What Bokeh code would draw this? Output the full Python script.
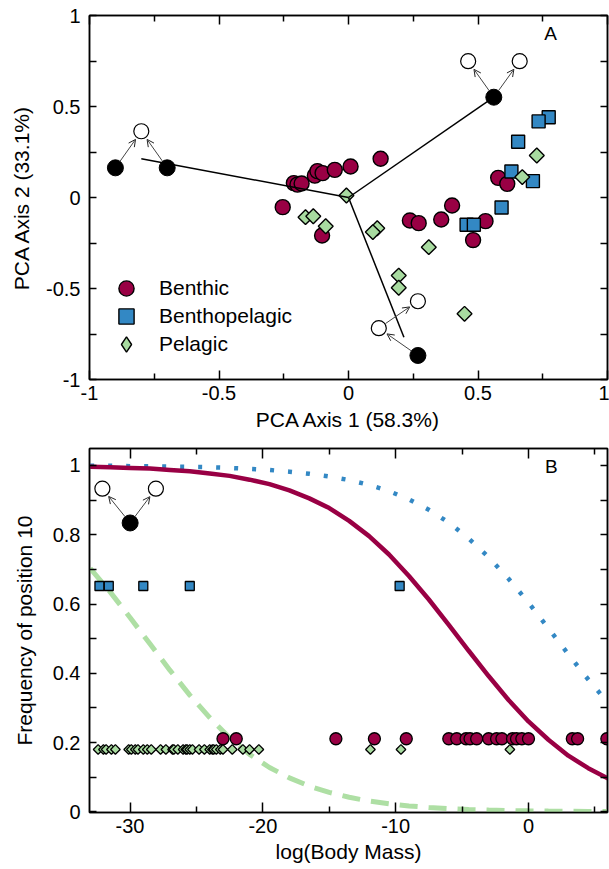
import math
from bokeh.plotting import figure
from bokeh.layouts import column
from bokeh.models import (Range1d, FixedTicker, LinearAxis, Legend, LegendItem,
                          Arrow, OpenHead, ColumnDataSource, Label)
from bokeh.embed import file_html
from bokeh.resources import INLINE

FONT = "Liberation Sans"
RED = "#990044"
BLUE = "#3388c4"
GREEN = "#a8dba0"
GREEN_LINE = "#aedfa4"

# ---------------- Panel A data (PCA scores) ----------------
benthic_pc1 = [-0.254, -0.211, -0.197, -0.181, -0.130, -0.120, -0.100, -0.053, 0.008, 0.124,
               -0.102, 0.578, 0.613, 0.400, 0.237, 0.271, 0.358, 0.529, 0.481]
benthic_pc2 = [-0.053, 0.079, 0.071, 0.077, 0.120, 0.145, 0.134, 0.152, 0.170, 0.213,
               -0.209, 0.108, 0.075, -0.044, -0.126, -0.141, -0.121, -0.130, -0.234]
benthopelagic_pc1 = [0.773, 0.734, 0.655, 0.629, 0.712, 0.591, 0.456, 0.484]
benthopelagic_pc2 = [0.441, 0.418, 0.306, 0.143, 0.090, -0.055, -0.150, -0.150]
pelagic_pc1 = [-0.166, -0.136, -0.088, -0.008, 0.111, 0.094, 0.310, 0.194, 0.194, 0.448, 0.727, 0.671]
pelagic_pc2 = [-0.108, -0.103, -0.158, 0.011, -0.169, -0.190, -0.273, -0.429, -0.496, -0.639, 0.231, 0.112]

# loading vectors (from origin)
loading_pc1 = [-0.800, 0.561, 0.214]
loading_pc2 = [0.213, 0.551, -0.768]

# topology icons in panel A
iconA_black_x = [-0.900, -0.700, 0.561, 0.268]
iconA_black_y = [0.163, 0.163, 0.551, -0.868]
iconA_open_x = [-0.800, 0.462, 0.661, 0.117, 0.268]
iconA_open_y = [0.364, 0.749, 0.749, -0.718, -0.570]
arrowA_x0 = [-0.900, -0.700, 0.561, 0.561, 0.268, 0.117]
arrowA_y0 = [0.163, 0.163, 0.551, 0.551, -0.868, -0.718]
arrowA_x1 = [-0.800, -0.800, 0.462, 0.661, 0.117, 0.268]
arrowA_y1 = [0.364, 0.364, 0.749, 0.749, -0.718, -0.570]

# ---------------- Panel B data ----------------
curve_x = [-33, -31.5, -30, -28.5, -27, -25.5, -24, -22.5, -21, -19.5, -18, -16.5, -15, -13.5,
           -12, -10.5, -9, -7.5, -6, -4.5, -3, -1.5, 0, 1.5, 3, 4.5, 6]
benthic_curve = [0.996, 0.995, 0.993, 0.991, 0.987, 0.983, 0.977, 0.970, 0.959, 0.946, 0.928,
                 0.905, 0.877, 0.840, 0.796, 0.743, 0.681, 0.613, 0.540, 0.465, 0.392, 0.323,
                 0.261, 0.208, 0.162, 0.126, 0.096]
benthopelagic_curve = [0.999, 0.999, 0.998, 0.998, 0.997, 0.996, 0.995, 0.993, 0.990, 0.987,
                       0.982, 0.976, 0.968, 0.958, 0.944, 0.926, 0.902, 0.872, 0.835, 0.789,
                       0.735, 0.673, 0.604, 0.530, 0.455, 0.382, 0.314]
pelagic_curve = [0.703, 0.635, 0.561, 0.485, 0.409, 0.337, 0.272, 0.214, 0.166, 0.128, 0.098,
                 0.074, 0.056, 0.042, 0.031, 0.023, 0.017, 0.0125, 0.0092, 0.0068, 0.0050,
                 0.0037, 0.0027, 0.0020, 0.0015, 0.0011, 0.0008]

benthic_mass = [-23.0, -22.0, -14.5, -11.6, -9.2, -6.0, -5.4, -4.7, -4.4, -3.9, -3.0, -2.4,
                -2.0, -1.2, -0.9, -0.5, 0.0, 3.3, 3.7, 5.9]
benthic_level = 0.211
benthopelagic_mass = [-32.3, -31.6, -29.0, -25.5, -9.7]
benthopelagic_level = 0.652
pelagic_mass = [-32.4, -32.0, -31.8, -31.4, -31.1, -30.1, -29.9, -29.6, -29.4, -29.0, -28.7,
                -28.4, -27.7, -27.3, -26.8, -26.7, -26.4, -26.0, -25.8, -25.7, -25.5, -25.3,
                -24.8, -24.4, -24.0, -23.8, -23.7, -23.5, -23.2, -23.0, -22.3, -21.5, -21.0,
                -20.3, -11.9, -9.6, -1.4]
pelagic_level = 0.180

iconB_black_x = [-29.99]
iconB_black_y = [0.834]
iconB_open_x = [-32.08, -28.05]
iconB_open_y = [0.933, 0.933]
arrowB_x0 = [-29.99, -29.99]
arrowB_y0 = [0.834, 0.834]
arrowB_x1 = [-32.08, -28.05]
arrowB_y1 = [0.933, 0.933]


def shorten(x0, y0, x1, y1, sx, sy, d0, d1):
    ax, ay, bx, by = [], [], [], []
    for a, b, c, d in zip(x0, y0, x1, y1):
        dx, dy = (c - a) * sx, (d - b) * sy
        L = math.hypot(dx, dy)
        ux, uy = dx / L, dy / L
        ax.append(a + ux * d0 / sx)
        ay.append(b + uy * d0 / sy)
        bx.append(c - ux * d1 / sx)
        by.append(d - uy * d1 / sy)
    return ax, ay, bx, by


def style_axis(ax, ticker, major_in, minor_in, labels=True, overrides=None, label_standoff=8,
               axis_label_standoff=8):
    ax.ticker = ticker
    ax.major_tick_in = major_in
    ax.major_tick_out = 0
    ax.minor_tick_in = minor_in
    ax.minor_tick_out = 0
    ax.axis_line_width = 1.5
    ax.axis_line_color = "black"
    ax.major_tick_line_width = 1.5
    ax.minor_tick_line_width = 1.5
    ax.major_tick_line_color = "black"
    ax.minor_tick_line_color = "black"
    ax.major_label_text_font = FONT
    ax.axis_label_text_font = FONT
    ax.axis_label_text_font_size = "21px"
    ax.axis_label_text_font_style = "normal"
    ax.axis_label_text_color = "black"
    ax.axis_label_standoff = axis_label_standoff
    if labels:
        ax.major_label_text_color = "black"
        ax.major_label_text_font_size = "20px"
        ax.major_label_standoff = label_standoff
        if overrides:
            ax.major_label_overrides = overrides
    else:
        # mirrored frame axis: ticks only, labels not drawn
        ax.major_label_text_color = None
        ax.major_label_text_alpha = 0
        ax.major_label_text_font_size = "1px"
        ax.major_label_standoff = 0


def make_fig(xr, yr, top, bottom, xlabel, ylabel):
    p = figure(frame_width=518, frame_height=364, x_range=xr, y_range=yr,
               output_backend="svg", toolbar_location=None,
               min_border_left=89, min_border_right=2, min_border_top=top,
               min_border_bottom=bottom, x_axis_label=xlabel, y_axis_label=ylabel)
    p.xgrid.visible = False
    p.ygrid.visible = False
    p.outline_line_color = "black"
    p.outline_line_width = 1.5
    p.background_fill_color = "white"
    p.border_fill_color = "white"
    return p


def key_legend(label, renderer, loc):
    return Legend(items=[LegendItem(label=label, renderers=[renderer])],
                  location=loc, padding=0, margin=0, spacing=0,
                  glyph_width=38, glyph_height=38, label_height=38, label_standoff=14,
                  label_text_font=FONT, label_text_font_size="21px", label_text_color="black",
                  background_fill_alpha=0, border_line_alpha=0)


# ================= Panel A =================
p1 = make_fig(Range1d(-1, 1), Range1d(-1, 1), 15, 56, "PCA Axis 1 (58.3%)", "PCA Axis 2 (33.1%)")
ovA = {-1: "-1", -0.5: "-0.5", 0: "0", 0.5: "0.5", 1: "1"}
tkA = lambda: FixedTicker(ticks=[-1, -0.5, 0, 0.5, 1], minor_ticks=[-0.75, -0.25, 0.25, 0.75])
style_axis(p1.xaxis[0], tkA(), 9, 6, overrides=ovA, label_standoff=6, axis_label_standoff=5)
style_axis(p1.yaxis[0], tkA(), 7, 7, overrides=ovA, label_standoff=9, axis_label_standoff=10)
ax_top = LinearAxis()
style_axis(ax_top, tkA(), 9, 6, labels=False)
p1.add_layout(ax_top, "above")
ax_right = LinearAxis()
style_axis(ax_right, tkA(), 7, 7, labels=False)
p1.add_layout(ax_right, "right")

r_b = p1.scatter(benthic_pc1, benthic_pc2, marker="circle", size=15, fill_color=RED,
                 line_color="black", line_width=1.4)
r_bp = p1.scatter(benthopelagic_pc1, benthopelagic_pc2, marker="square", size=13, fill_color=BLUE,
                  line_color="black", line_width=1.4)
# diamond-shaped key for the legend (legend keys ignore marker angle); it sits hidden
# underneath the rotated-square markers drawn on top of it
r_p_key = p1.scatter(pelagic_pc1, pelagic_pc2, marker="diamond", size=13, fill_color=GREEN,
                     line_color="black", line_width=1.4)
r_p = p1.scatter(pelagic_pc1, pelagic_pc2, marker="square", angle=math.pi / 4, size=10.5,
                 fill_color=GREEN, line_color="black", line_width=1.4)

p1.segment(x0=[0] * len(loading_pc1), y0=[0] * len(loading_pc2), x1=loading_pc1, y1=loading_pc2,
           line_color="black", line_width=1.5)

ax0, ay0, ax1, ay1 = shorten(arrowA_x0, arrowA_y0, arrowA_x1, arrowA_y1, 259.0, 182.0, 8, 10)
srcA = ColumnDataSource(dict(x0=ax0, y0=ay0, x1=ax1, y1=ay1))
p1.add_layout(Arrow(source=srcA, x_start="x0", y_start="y0", x_end="x1", y_end="y1",
                    line_color="#444444", line_width=1,
                    end=OpenHead(size=7, line_width=1, line_color="#222222")))
p1.scatter(iconA_black_x, iconA_black_y, marker="circle", size=16, fill_color="black",
           line_color="black", line_width=1)
p1.scatter(iconA_open_x, iconA_open_y, marker="circle", size=15, fill_color="white",
           line_color="black", line_width=1.2)

p1.add_layout(key_legend("Benthic", r_b, (18, 72)))
p1.add_layout(key_legend("Benthopelagic", r_bp, (18, 44)))
p1.add_layout(key_legend("Pelagic", r_p_key, (18, 16)))

p1.add_layout(Label(x=0.78, y=0.90, text="A", text_font=FONT, text_font_size="19px",
                    text_align="center", text_baseline="middle", text_color="black"))

# ================= Panel B =================
p2 = make_fig(Range1d(-33.05, 5.95), Range1d(-0.002, 1.049), 13, 57, "log(Body Mass)",
              "Frequency of position 10")
ovBx = {-30: "-30", -20: "-20", -10: "-10", 0: "0"}
ovBy = {0: "0", 0.2: "0.2", 0.4: "0.4", 0.6: "0.6", 0.8: "0.8", 1: "1"}
tkBx = lambda: FixedTicker(ticks=[-30, -20, -10, 0], minor_ticks=[-25, -15, -5, 5])
tkBy = lambda: FixedTicker(ticks=[0, 0.2, 0.4, 0.6, 0.8, 1], minor_ticks=[0.1, 0.3, 0.5, 0.7, 0.9])
style_axis(p2.xaxis[0], tkBx(), 10, 6, overrides=ovBx, label_standoff=6, axis_label_standoff=4)
style_axis(p2.yaxis[0], tkBy(), 7, 7, overrides=ovBy, label_standoff=9, axis_label_standoff=14)
bx_top = LinearAxis()
style_axis(bx_top, tkBx(), 10, 6, labels=False)
p2.add_layout(bx_top, "above")
by_right = LinearAxis()
style_axis(by_right, tkBy(), 7, 7, labels=False)
p2.add_layout(by_right, "right")

p2.line(curve_x, pelagic_curve, line_color=GREEN_LINE, line_width=5, line_dash="18 11")
p2.line(curve_x, benthopelagic_curve, line_color=BLUE, line_width=4.5, line_dash="4 14")
p2.line(curve_x, benthic_curve, line_color=RED, line_width=4.5)

p2.scatter(benthic_mass, [benthic_level] * len(benthic_mass), marker="circle", size=12,
           fill_color=RED, line_color="black", line_width=1.3)
p2.scatter(benthopelagic_mass, [benthopelagic_level] * len(benthopelagic_mass), marker="square",
           size=9, fill_color=BLUE, line_color="black", line_width=1.3)
p2.scatter(pelagic_mass, [pelagic_level] * len(pelagic_mass), marker="square", angle=math.pi / 4,
           size=6.8, fill_color=GREEN, line_color="black", line_width=1.3)

bx0, by0, bx1, by1 = shorten(arrowB_x0, arrowB_y0, arrowB_x1, arrowB_y1, 518 / 39.0, 364 / 1.051, 8, 10)
srcB = ColumnDataSource(dict(x0=bx0, y0=by0, x1=bx1, y1=by1))
p2.add_layout(Arrow(source=srcB, x_start="x0", y_start="y0", x_end="x1", y_end="y1",
                    line_color="#444444", line_width=1,
                    end=OpenHead(size=7, line_width=1, line_color="#222222")))
p2.scatter(iconB_black_x, iconB_black_y, marker="circle", size=16, fill_color="black",
           line_color="black", line_width=1)
p2.scatter(iconB_open_x, iconB_open_y, marker="circle", size=15, fill_color="white",
           line_color="black", line_width=1.2)

p2.add_layout(Label(x=1.73, y=0.997, text="B", text_font=FONT, text_font_size="19px",
                    text_align="center", text_baseline="middle", text_color="black"))

layout = column(p1, p2, spacing=0)
open("out.html", "w").write(file_html(layout, INLINE))
